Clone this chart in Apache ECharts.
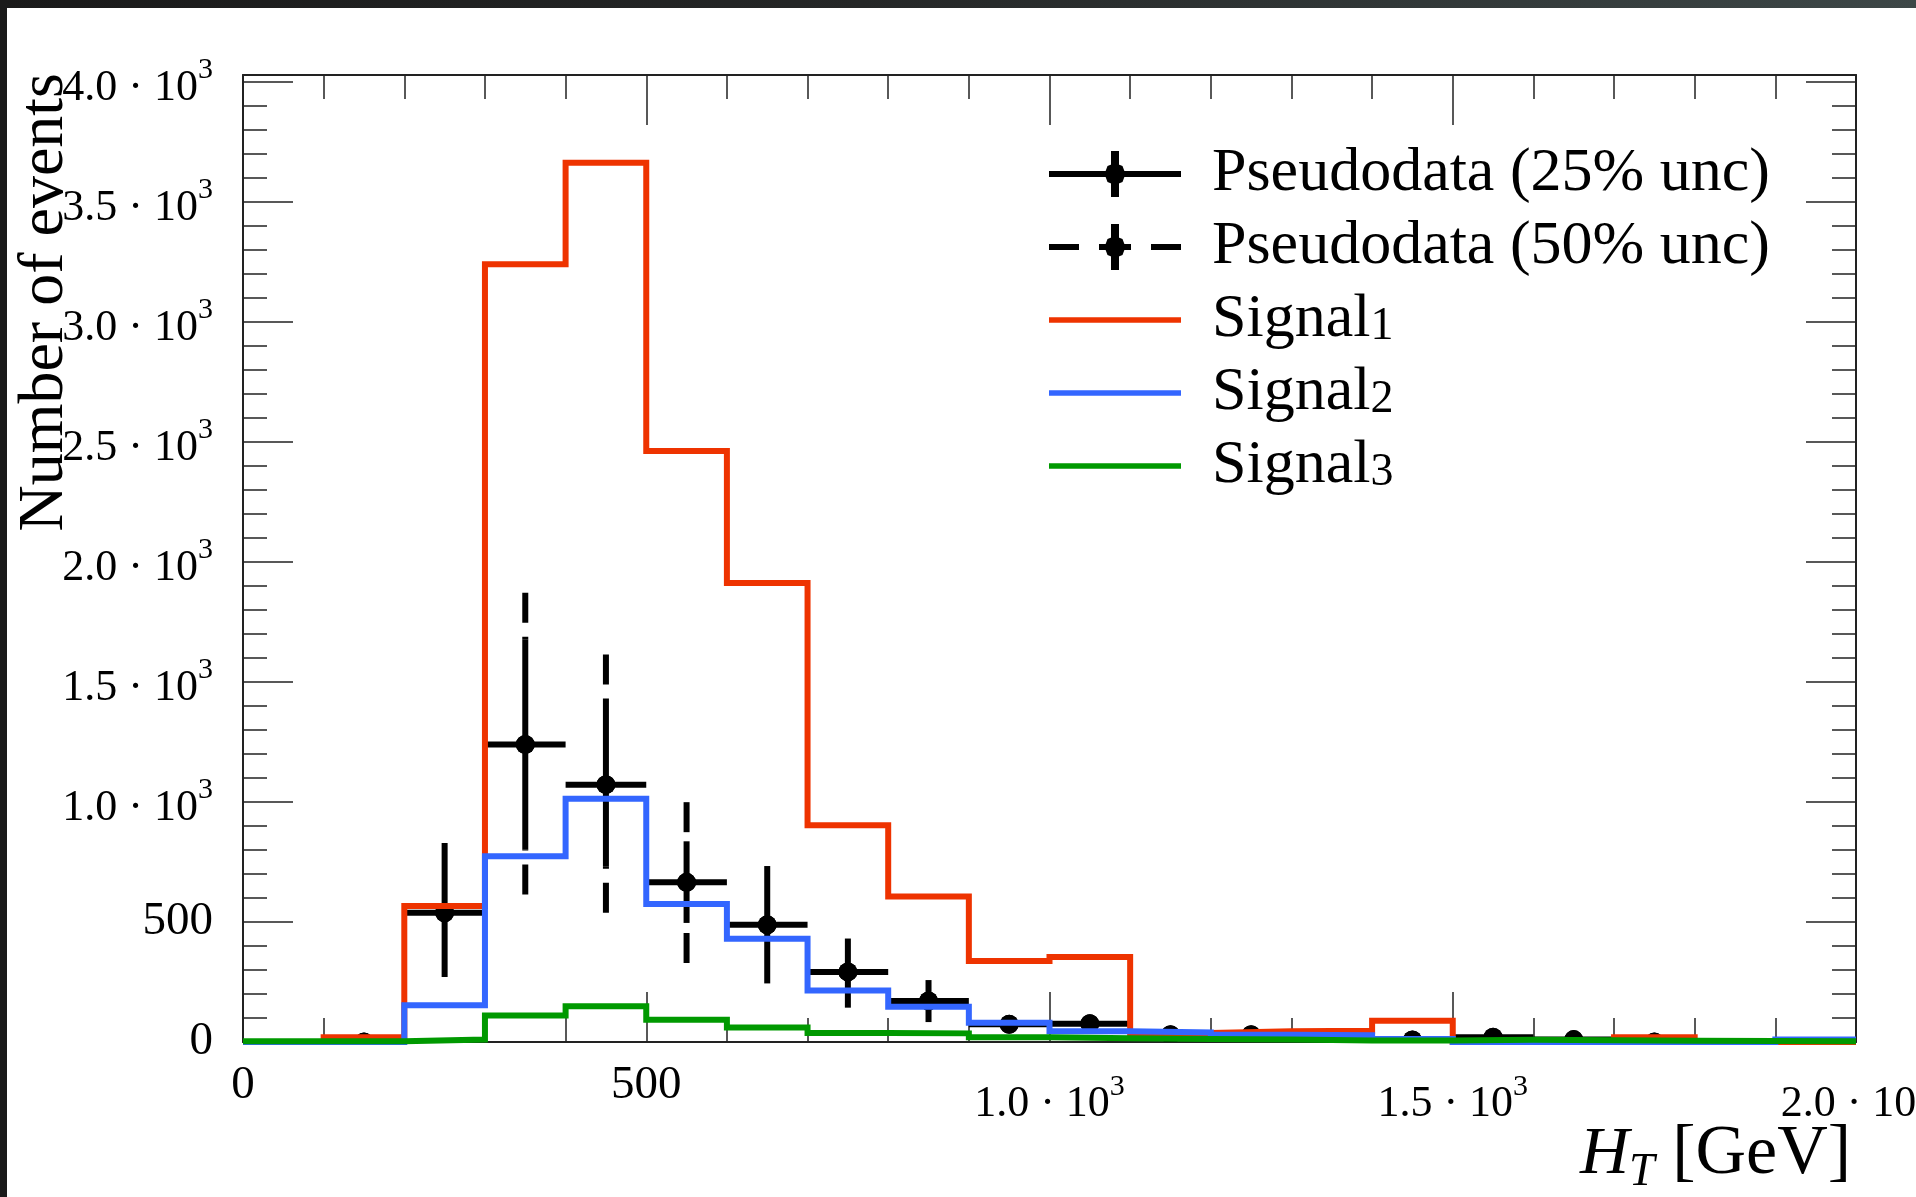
<!DOCTYPE html>
<html>
<head>
<meta charset="utf-8">
<script src="https://cdn.jsdelivr.net/npm/echarts@6/dist/echarts.min.js"></script>
<style>
html,body{margin:0;padding:0;width:1916px;height:1197px;overflow:hidden;
  background:linear-gradient(90deg,#1a1a1a 0%,#252727 45%,#3d4747 100%);}
#paper{position:absolute;left:7px;top:8px;width:1909px;height:1189px;background:#ffffff;}
#chart{position:absolute;left:0;top:0;width:1916px;height:1197px;}
</style>
</head>
<body>
<div id="paper"></div>
<div id="chart"></div>
<script>
// ---------------- data ----------------
const binEdges = [0,100,200,300,400,500,600,700,800,900,1000,1100,1200,1300,1400,1500,1600,1700,1800,1900,2000];

const signal1 = [0, 20, 566, 3240, 3662, 2462, 1912, 903, 606, 337, 354, 38, 45, 47, 88, 0, 0, 20, 0, 0];
const signal2 = [0, 0, 153, 774, 1013, 575, 430, 215, 147, 80, 45, 40, 30, 28, 12, 0, 0, 0, 0, 10];
const signal3 = [3, 3, 10, 110, 149, 93, 60, 38, 36, 20, 16, 12, 10, 6, 6, 9, 7, 5, 4, 3];

// pseudodata central values (null = no point)
const pseudoValue = [null, 0, 538, 1239, 1072, 665, 488, 292, 171, 74, 76, 30, 30, 14, 8, 20, 10, 0, null, null];
// 25% unc. error band
const pseudoLow25  = [null, 0, 271, 801, 732, 496, 244, 143, 83, 37, 38, 15, 15, 7, 4, 10, 5, 0, null, null];
const pseudoHigh25 = [null, 0, 829, 1676, 1420, 836, 733, 431, 258, 111, 114, 45, 45, 21, 12, 30, 15, 0, null, null];
// 50% unc. error band
const pseudoLow50  = [null, 0, 271, 614, 538, 329, 244, 143, 83, 37, 38, 15, 15, 7, 4, 10, 5, 0, null, null];
const pseudoHigh50 = [null, 0, 829, 1871, 1614, 999, 733, 431, 258, 111, 114, 45, 45, 21, 12, 30, 15, 0, null, null];

// tick labels
const xTickValues = [0, 500, 1000, 1500, 2000];
const xTickMantissa = ['0', '500', '1.0', '1.5', '2.0'];
const xTickExponent = ['', '', '3', '3', '3'];
const yTickValues = [0, 500, 1000, 1500, 2000, 2500, 3000, 3500, 4000];
const yTickMantissa = ['0', '500', '1.0', '1.5', '2.0', '2.5', '3.0', '3.5', '4.0'];
const yTickExponent = ['', '', '3', '3', '3', '3', '3', '3', '3'];

const seriesNames = ['Pseudodata (25% unc)', 'Pseudodata (50% unc)', 'Signal1', 'Signal2', 'Signal3'];

// ---------------- chart ----------------
const FONT = '"Liberation Serif", "DejaVu Serif", serif';
const RED = '#ee3300', BLUE = '#3366ff', GREEN = '#009900';

function histData(vals) {
  return binEdges.map((x, i) => [x, vals[Math.min(i, vals.length - 1)]]);
}
function pointRows(lowArr, highArr) {
  const rows = [];
  for (let i = 0; i < pseudoValue.length; i++) {
    if (pseudoValue[i] === null) continue;
    rows.push([binEdges[i], binEdges[i + 1], pseudoValue[i], lowArr[i], highArr[i], pseudoLow25[i], pseudoHigh25[i]]);
  }
  return rows;
}
function renderPoints(dashed) {
  return function (params, api) {
    const xl = api.value(0), xh = api.value(1), v = api.value(2);
    const lo = api.value(3), hi = api.value(4), loIn = api.value(5), hiIn = api.value(6);
    const xc = (xl + xh) / 2;
    const c = api.coord([xc, v]);
    const children = [];
    const st = { stroke: '#000', lineWidth: 6 };
    if (!dashed) {
      const a = api.coord([xl, v]), b = api.coord([xh, v]);
      children.push({ type: 'line', shape: { x1: a[0], y1: a[1], x2: b[0], y2: b[1] }, style: st });
      const t = api.coord([xc, hi]), u = api.coord([xc, lo]);
      if (Math.abs(t[1] - u[1]) > 0.5)
        children.push({ type: 'line', shape: { x1: t[0], y1: t[1], x2: u[0], y2: u[1] }, style: st });
    } else {
      const ds = { stroke: '#000', lineWidth: 6, lineDash: [30, 14] };
      const t = api.coord([xc, hi]), ti = api.coord([xc, hiIn]);
      if (ti[1] - t[1] > 1)
        children.push({ type: 'line', shape: { x1: t[0], y1: t[1], x2: ti[0], y2: ti[1] }, style: ds });
      const u = api.coord([xc, lo]), ui = api.coord([xc, loIn]);
      if (u[1] - ui[1] > 1)
        children.push({ type: 'line', shape: { x1: u[0], y1: u[1], x2: ui[0], y2: ui[1] }, style: ds });
    }
    children.push({ type: 'circle', shape: { cx: c[0], cy: c[1], r: 9.5 }, style: { fill: '#000' } });
    return { type: 'group', children: children };
  };
}

function xFmt(v) {
  const i = xTickValues.indexOf(v);
  if (i < 0) return '';
  if (!xTickExponent[i]) return '{p|' + xTickMantissa[i] + '}';
  return '{n|' + xTickMantissa[i] + ' \u00b7 10}{s|' + xTickExponent[i] + '}';
}
function yFmt(v) {
  const i = yTickValues.indexOf(v);
  if (i < 0) return '';
  if (!yTickExponent[i]) return '{p|' + yTickMantissa[i] + '}';
  return '{n|' + yTickMantissa[i] + ' \u00b7 10}{s|' + yTickExponent[i] + '}';
}
function legendFmt(name) {
  const m = name.match(/^(Signal)(\d)$/);
  if (m) return '{a|' + m[1] + '}{d|' + m[2] + '}';
  return '{a|' + name + '}';
}

const TICK = { color: '#222', width: 1.5 };
const AXLINE = { show: true, onZero: false, lineStyle: { color: '#222', width: 2 } };
const YMAX = 4028;

const iconSolid = 'path://M0 20H132V26H0Z M62 0H70V46H62Z M66 12L73.5 15L76.5 23L73.5 31L66 34L58.5 31L55.5 23L58.5 15Z';
const iconDashed = 'path://M0 20H30V26H0Z M50 20H82V26H50Z M102 20H132V26H102Z M62 0H70V46H62Z M66 12L73.5 15L76.5 23L73.5 31L66 34L58.5 31L55.5 23L58.5 15Z';
const iconLine = 'path://M0 20H132V25.5H0Z';

const chart = echarts.init(document.getElementById('chart'), null, { renderer: 'canvas' });
chart.setOption({
  backgroundColor: 'transparent',
  animation: false,
  textStyle: { fontFamily: FONT },
  grid: { left: 243, right: 60, top: 75, bottom: 155, containLabel: false, outerBoundsMode: 'none' },
  xAxis: [
    {
      type: 'value', min: 0, max: 2000, interval: 500, position: 'bottom',
      axisLine: AXLINE,
      axisTick: { show: true, inside: true, length: 50, lineStyle: TICK },
      minorTick: { show: true, splitNumber: 5, length: 24, lineStyle: TICK },
      splitLine: { show: false }, minorSplitLine: { show: false },
      axisLabel: {
        margin: 20, color: '#000', fontFamily: FONT, fontSize: 44, formatter: xFmt,
        hideOverlap: false, showMaxLabel: true,
        rich: {
          p: { fontFamily: FONT, fontSize: 47, color: '#000' },
          n: { fontFamily: FONT, fontSize: 44, color: '#000', padding: [20, 0, 0, 0] },
          s: { fontFamily: FONT, fontSize: 30, color: '#000', padding: [10, 0, 24, 0] }
        }
      }
    },
    {
      type: 'value', min: 0, max: 2000, interval: 500, position: 'top',
      axisLine: AXLINE,
      axisTick: { show: true, inside: true, length: 50, lineStyle: TICK },
      minorTick: { show: true, splitNumber: 5, length: 24, lineStyle: TICK },
      splitLine: { show: false }, minorSplitLine: { show: false },
      axisLabel: { show: false }
    }
  ],
  yAxis: [
    {
      type: 'value', min: 0, max: YMAX, interval: 500, position: 'left',
      axisLine: AXLINE,
      axisTick: { show: true, inside: true, length: 50, lineStyle: TICK },
      splitLine: { show: false },
      axisLabel: {
        margin: 30, color: '#000', fontFamily: FONT, fontSize: 44, formatter: yFmt,
        rich: {
          p: { fontFamily: FONT, fontSize: 47, color: '#000' },
          n: { fontFamily: FONT, fontSize: 44, color: '#000', padding: [13, 0, 0, 0] },
          s: { fontFamily: FONT, fontSize: 30, color: '#000', padding: [2, 0, 25, 0] }
        }
      }
    },
    {
      type: 'value', min: 0, max: YMAX, interval: 100, position: 'left',
      axisLine: { show: false, onZero: false },
      axisTick: { show: true, inside: true, length: 24, lineStyle: TICK },
      splitLine: { show: false }, axisLabel: { show: false }
    },
    {
      type: 'value', min: 0, max: YMAX, interval: 500, position: 'right',
      axisLine: AXLINE,
      axisTick: { show: true, inside: true, length: 50, lineStyle: TICK },
      splitLine: { show: false }, axisLabel: { show: false }
    },
    {
      type: 'value', min: 0, max: YMAX, interval: 100, position: 'right',
      axisLine: { show: false, onZero: false },
      axisTick: { show: true, inside: true, length: 24, lineStyle: TICK },
      splitLine: { show: false }, axisLabel: { show: false }
    }
  ],
  legend: {
    orient: 'vertical', left: 1044, top: 138, padding: 5,
    itemWidth: 132, itemHeight: 46, itemGap: 11,
    selectedMode: false,
    textStyle: {
      fontFamily: FONT, fontSize: 62, color: '#000', padding: [0, 0, 0, 26],
      rich: {
        a: { fontFamily: FONT, fontSize: 62, color: '#000' },
        d: { fontFamily: FONT, fontSize: 46, color: '#000', padding: [13, 0, 0, 0] }
      }
    },
    formatter: legendFmt,
    data: [
      { name: seriesNames[0], icon: iconSolid },
      { name: seriesNames[1], icon: iconDashed },
      { name: seriesNames[2], icon: iconLine },
      { name: seriesNames[3], icon: iconLine },
      { name: seriesNames[4], icon: iconLine }
    ]
  },
  graphic: [
    {
      type: 'text', x: 45, y: 73, rotation: Math.PI / 2, z: 100,
      style: { text: 'Number of events', font: '64px ' + FONT, fill: '#000', align: 'right', verticalAlign: 'middle' }
    },
    {
      type: 'text', x: 1851, y: 1155, z: 100,
      style: {
        text: '{h|H}{t|T}{g| [GeV]}', align: 'right', verticalAlign: 'middle', fill: '#000',
        rich: {
          h: { fontFamily: FONT, fontStyle: 'italic', fontSize: 68, fill: '#000' },
          t: { fontFamily: FONT, fontStyle: 'italic', fontSize: 46, fill: '#000', padding: [36, 0, 0, 0] },
          g: { fontFamily: FONT, fontSize: 70, fill: '#000' }
        }
      }
    }
  ],
  series: [
    {
      name: seriesNames[1], type: 'custom', xAxisIndex: 0, yAxisIndex: 0, clip: true,
      itemStyle: { color: '#000' }, color: '#000',
      renderItem: renderPoints(true),
      encode: { x: [0, 1], y: [2, 3, 4] },
      data: pointRows(pseudoLow50, pseudoHigh50), z: 2
    },
    {
      name: seriesNames[0], type: 'custom', xAxisIndex: 0, yAxisIndex: 0, clip: true,
      itemStyle: { color: '#000' }, color: '#000',
      renderItem: renderPoints(false),
      encode: { x: [0, 1], y: [2, 3, 4] },
      data: pointRows(pseudoLow25, pseudoHigh25), z: 2
    },
    {
      name: seriesNames[2], type: 'line', step: 'end', xAxisIndex: 0, yAxisIndex: 0, clip: true,
      showSymbol: false, symbol: 'none', color: RED, itemStyle: { color: RED },
      lineStyle: { color: RED, width: 6, join: 'miter', cap: 'butt' },
      data: histData(signal1), z: 3
    },
    {
      name: seriesNames[3], type: 'line', step: 'end', xAxisIndex: 0, yAxisIndex: 0, clip: true,
      showSymbol: false, symbol: 'none', color: BLUE, itemStyle: { color: BLUE },
      lineStyle: { color: BLUE, width: 6, join: 'miter', cap: 'butt' },
      data: histData(signal2), z: 3
    },
    {
      name: seriesNames[4], type: 'line', step: 'end', xAxisIndex: 0, yAxisIndex: 0, clip: true,
      showSymbol: false, symbol: 'none', color: GREEN, itemStyle: { color: GREEN },
      lineStyle: { color: GREEN, width: 6, join: 'miter', cap: 'butt' },
      data: histData(signal3), z: 3
    }
  ]
});
</script>
</body>
</html>
